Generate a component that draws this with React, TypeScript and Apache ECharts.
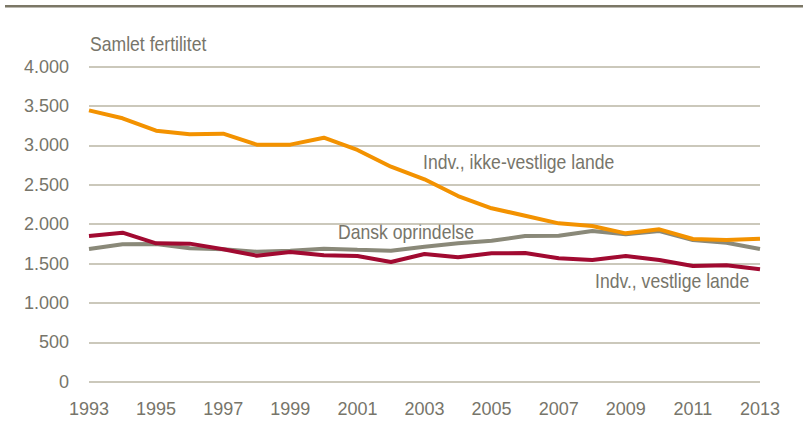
import React, { useEffect, useRef } from "react";
import * as echarts from "echarts";

const years = ["1993","1994","1995","1996","1997","1998","1999","2000","2001","2002","2003","2004","2005","2006","2007","2008","2009","2010","2011","2012","2013"];
const ikkeVestlige = [3446,3345,3187,3141,3149,3010,3010,3098,2943,2730,2570,2358,2202,2108,2011,1977,1884,1935,1812,1800,1816];
const danskOprindelse = [1685,1745,1749,1694,1681,1651,1664,1689,1675,1664,1714,1757,1790,1850,1854,1913,1871,1913,1800,1765,1685];
const vestlige = [1850,1892,1757,1753,1681,1600,1647,1605,1596,1520,1622,1580,1630,1634,1567,1545,1596,1545,1469,1478,1427];

const FONT = "'Liberation Sans', Arial, sans-serif";
const TEXT = "#77756A";
const SX = 0.88;

export default function App() {
  const ref = useRef<HTMLDivElement>(null);
  useEffect(() => {
    if (!ref.current) return;
    const chart = echarts.init(ref.current, null, { renderer: "svg" });
    chart.setOption({
      animation: false,
      backgroundColor: "#ffffff",
      grid: { left: 89, right: 43, top: 66.7, bottom: 46.3 },
      xAxis: {
        type: "category",
        data: years,
        boundaryGap: false,
        axisLine: { show: false },
        axisTick: { show: false },
        axisLabel: { interval: 1, color: TEXT, fontFamily: FONT, fontSize: 18, margin: 18 },
        splitLine: { show: false },
      },
      yAxis: {
        type: "value",
        min: 0,
        max: 4000,
        interval: 500,
        axisLine: { show: false },
        axisTick: { show: false },
        axisLabel: {
          color: TEXT,
          fontFamily: FONT,
          fontSize: 18,
          margin: 20,
          formatter: (v: number) => (v >= 1000 ? Math.floor(v / 1000) + "." + String(v % 1000).padStart(3, "0") : String(v)),
        },
        splitLine: { lineStyle: { color: "#BAB6A4", width: 1.5 } },
      },
      series: [
        { name: "Dansk oprindelse", type: "line", data: danskOprindelse, showSymbol: false, lineStyle: { color: "#8A8979", width: 4 }, itemStyle: { color: "#8A8979" } },
        { name: "Indv., vestlige lande", type: "line", data: vestlige, showSymbol: false, lineStyle: { color: "#A10A31", width: 4 }, itemStyle: { color: "#A10A31" } },
        { name: "Indv., ikke-vestlige lande", type: "line", data: ikkeVestlige, showSymbol: false, lineStyle: { color: "#F39200", width: 4 }, itemStyle: { color: "#F39200" } },
      ],
      graphic: [
        { type: "rect", shape: { x: 5, y: 5, width: 798, height: 2.5 }, style: { fill: "#7B7766" } },
        { type: "text", x: 90, y: 44, scaleX: SX, style: { text: "Samlet fertilitet", fill: TEXT, font: `20px ${FONT}`, verticalAlign: "middle" } },
        { type: "text", x: 423, y: 162, scaleX: SX, style: { text: "Indv., ikke-vestlige lande", fill: TEXT, font: `20px ${FONT}`, verticalAlign: "middle" } },
        { type: "text", x: 338, y: 232, scaleX: SX, style: { text: "Dansk oprindelse", fill: TEXT, font: `20px ${FONT}`, verticalAlign: "middle" } },
        { type: "text", x: 595, y: 281, scaleX: SX, style: { text: "Indv., vestlige lande", fill: TEXT, font: `20px ${FONT}`, verticalAlign: "middle" } },
      ],
    });
    return () => chart.dispose();
  }, []);
  return <div ref={ref} style={{ position: "absolute", left: 0, top: 0, width: 803, height: 428 }} />;
}
